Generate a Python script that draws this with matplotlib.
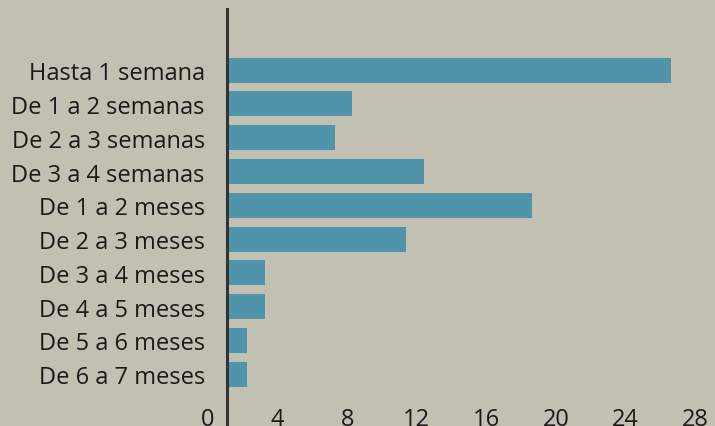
import matplotlib
matplotlib.use("Agg")
import matplotlib.pyplot as plt
import matplotlib.transforms as mtransforms

categories = ["Hasta 1 semana", "De 1 a 2 semanas", "De 2 a 3 semanas", "De 3 a 4 semanas",
              "De 1 a 2 meses", "De 2 a 3 meses", "De 3 a 4 meses", "De 4 a 5 meses",
              "De 5 a 6 meses", "De 6 a 7 meses"]
values = [25.5, 7.2, 6.2, 11.3, 17.5, 10.3, 2.2, 2.2, 1.15, 1.15]
xticks = [0, 4, 8, 12, 16, 20, 24, 28]

BG = "#c2bfb3"
BAR = "#5094ab"
TXT = "#1a1a1a"

plt.rcParams['font.family'] = ['Open Sans', 'DejaVu Sans']

W, H = 715, 427
fig = plt.figure(figsize=(W / 100, H / 100), dpi=100, facecolor=BG)
left_px, top_px = 227, 10
ax = fig.add_axes([left_px / W, 0, (W - left_px) / W, (H - top_px) / H])
ax.set_facecolor(BG)

ypos = list(range(len(categories)))
ax.barh(ypos, values, height=0.74, color=BAR, zorder=2)

px_per_unit = 17.4
ax.set_xlim(0, (W - left_px) / px_per_unit)
row_px = 33.8
ax.set_ylim(9 + 52 / row_px, -(61.3 / row_px))

ax.set_yticks(ypos)
ax.set_yticklabels(categories, fontsize=17, color=TXT)
ax.tick_params(axis='y', length=0, pad=16)

ax.set_xticks(xticks)
ax.set_xticklabels([str(t) for t in xticks], fontsize=17, color=TXT)
ax.tick_params(axis='x', length=0, pad=-14)
offset = mtransforms.ScaledTranslation(-19 / 100, 0, fig.dpi_scale_trans)
for lbl in ax.get_xticklabels():
    lbl.set_transform(lbl.get_transform() + offset)

for s in ['top', 'right', 'bottom']:
    ax.spines[s].set_visible(False)
ax.spines['left'].set_color("#333333")
ax.spines['left'].set_linewidth(2.2)

fig.savefig("out.png", dpi=100, facecolor=BG)
